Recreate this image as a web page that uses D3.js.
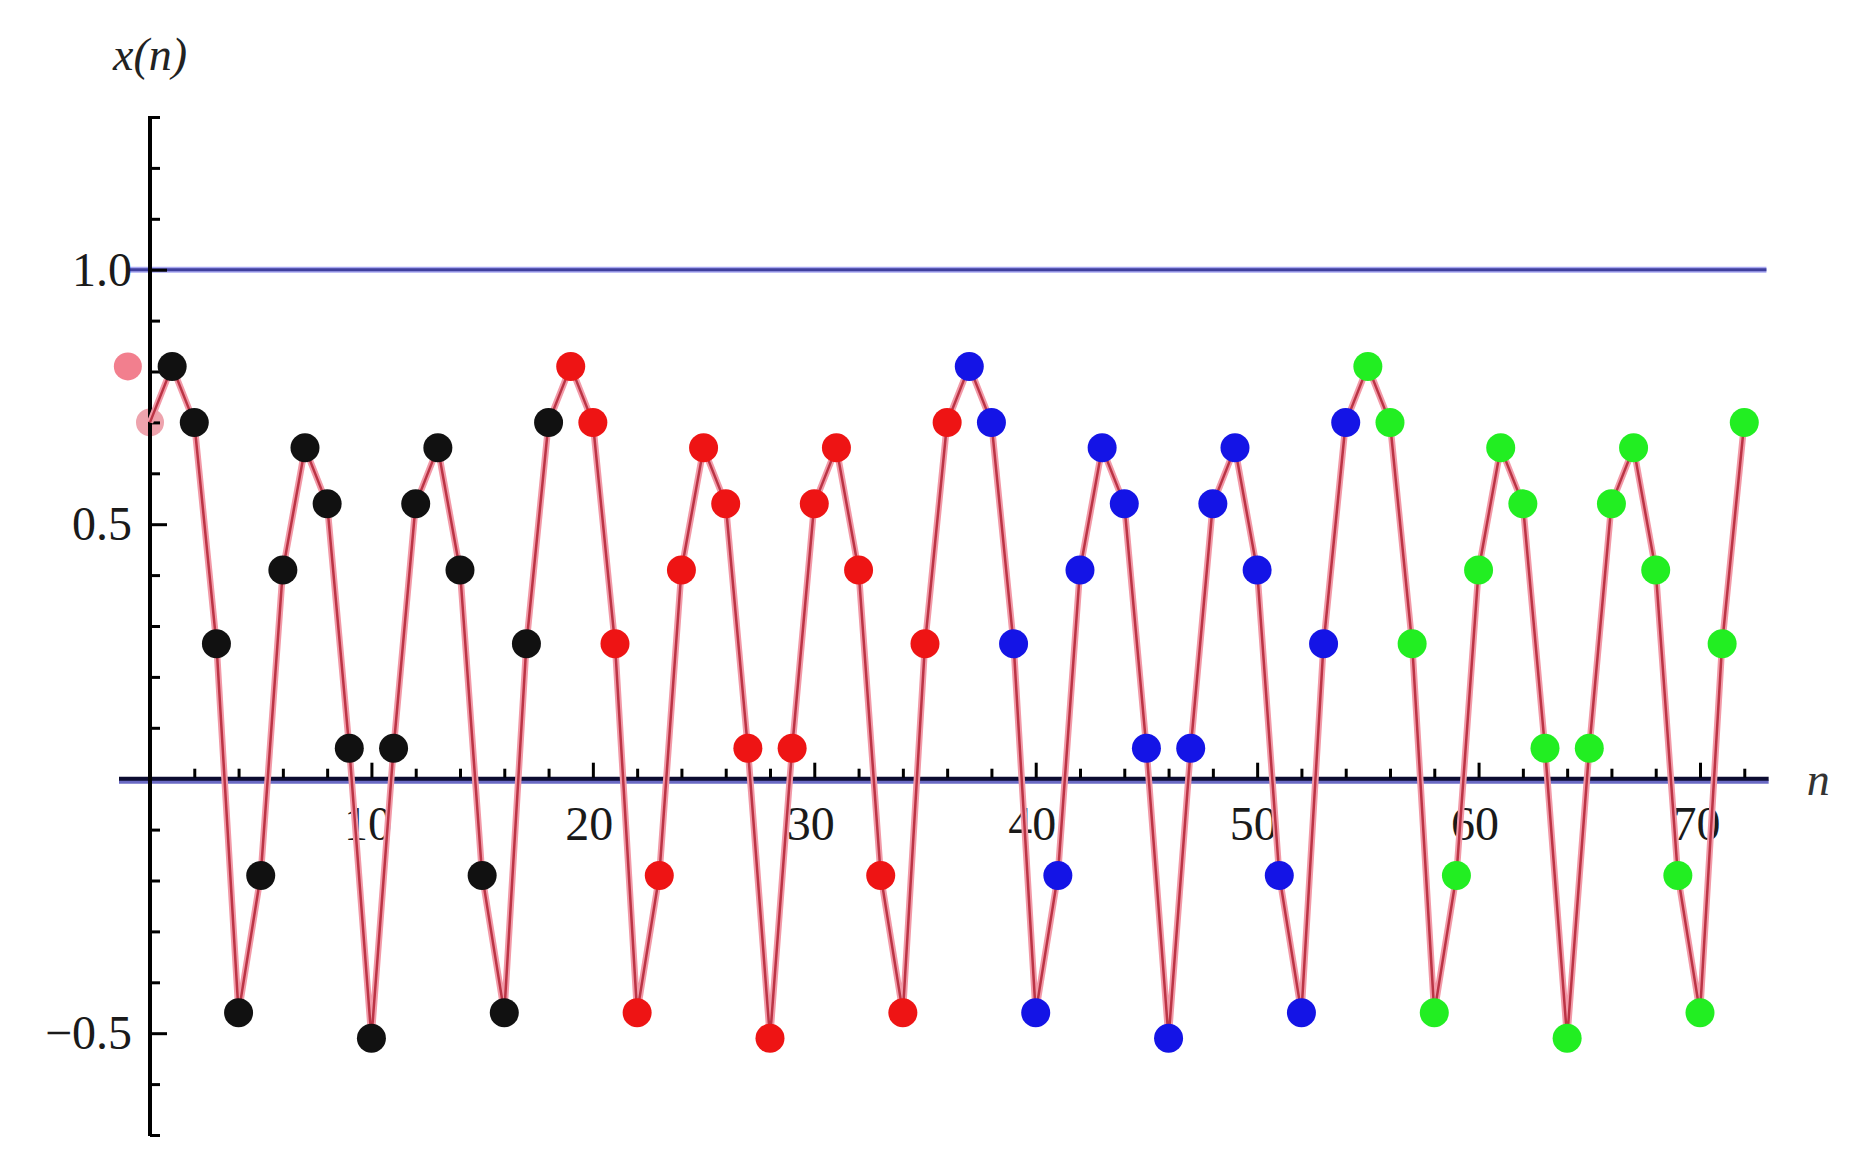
<!DOCTYPE html>
<html>
<head>
<meta charset="utf-8">
<script src="https://cdn.jsdelivr.net/npm/d3@7"></script>
<style>
  html, body { margin: 0; padding: 0; background: #ffffff; }
  svg { display: block; }
</style>
</head>
<body>
<svg id="chart" width="1873" height="1174"></svg>
<script>
// ---------------- data ----------------
const initN = [-1, 0];
const initX = [0.81, 0.70];
const initColors = ["#f27f8e", "#eea3ad"];

const blackN = [1, 2, 3, 4, 5, 6, 7, 8, 9, 10, 11, 12, 13, 14, 15, 16, 17, 18];
const blackX = [0.81, 0.70, 0.265, -0.46, -0.19, 0.41, 0.65, 0.54, 0.06, -0.51, 0.06, 0.54, 0.65, 0.41, -0.19, -0.46, 0.265, 0.70];

const redN = [19, 20, 21, 22, 23, 24, 25, 26, 27, 28, 29, 30, 31, 32, 33, 34, 35, 36];
const redX = [0.81, 0.70, 0.265, -0.46, -0.19, 0.41, 0.65, 0.54, 0.06, -0.51, 0.06, 0.54, 0.65, 0.41, -0.19, -0.46, 0.265, 0.70];

const blueN = [37, 38, 39, 40, 41, 42, 43, 44, 45, 46, 47, 48, 49, 50, 51, 52, 53, 54];
const blueX = [0.81, 0.70, 0.265, -0.46, -0.19, 0.41, 0.65, 0.54, 0.06, -0.51, 0.06, 0.54, 0.65, 0.41, -0.19, -0.46, 0.265, 0.70];

const greenN = [55, 56, 57, 58, 59, 60, 61, 62, 63, 64, 65, 66, 67, 68, 69, 70, 71, 72];
const greenX = [0.81, 0.70, 0.265, -0.46, -0.19, 0.41, 0.65, 0.54, 0.06, -0.51, 0.06, 0.54, 0.65, 0.41, -0.19, -0.46, 0.265, 0.70];

const xTickLabels = [10, 20, 30, 40, 50, 60, 70];
const yTickValues = [-0.5, 0.5, 1.0];
const yTickLabels = ["\u22120.5", "0.5", "1.0"];

const refLineValue = 1.0;          // horizontal reference line x(n) = 1
const refLineRange = [-1, 73];

// ---------------- drawing ----------------
const svg = d3.select("#chart");
const x = d3.scaleLinear().domain([0, 70]).range([150, 1700]);
const y = d3.scaleLinear().domain([-0.7, 1.3]).range([1135, 117]);

const series = [
  { n: blackN, v: blackX, color: "#111111" },
  { n: redN,   v: redX,   color: "#ee1414" },
  { n: blueN,  v: blueX,  color: "#1414e6" },
  { n: greenN, v: greenX, color: "#22ee22" }
];

// reference line y = 1
const refG = svg.append("g");
refG.append("line")
  .attr("x1", x(refLineRange[0])).attr("x2", x(refLineRange[1]))
  .attr("y1", y(refLineValue)).attr("y2", y(refLineValue))
  .attr("stroke", "#aaaaf2").attr("stroke-width", 6);
refG.append("line")
  .attr("x1", x(refLineRange[0])).attr("x2", x(refLineRange[1]))
  .attr("y1", y(refLineValue)).attr("y2", y(refLineValue))
  .attr("stroke", "#3f3f9e").attr("stroke-width", 3);

// initial (pink) points, underneath the axes
svg.append("g").selectAll("circle")
  .data(initN.map((n, i) => ({ n, v: initX[i], c: initColors[i] })))
  .join("circle")
  .attr("cx", d => x(d.n)).attr("cy", d => y(d.v))
  .attr("r", 14).attr("fill", d => d.c);

// y = 0 blue line under the x axis
svg.append("line")
  .attr("x1", x(-1.4)).attr("x2", x(73.1))
  .attr("y1", y(0) + 3).attr("y2", y(0) + 3)
  .attr("stroke", "#6a6ac4").attr("stroke-width", 4);

// x axis (ticks point up, labels below)
const xAxisG = svg.append("g").attr("transform", `translate(0,${y(0)})`);
xAxisG.append("line")
  .attr("x1", x(-1.4)).attr("x2", x(73.1))
  .attr("stroke", "#0c0c30").attr("stroke-width", 4);

const xMinor = d3.range(2, 73, 2).filter(v => v % 10 !== 0);
const xMinorAxis = d3.axisBottom(x).tickValues(xMinor).tickSize(-9).tickFormat("");
const xMajorAxis = d3.axisBottom(x).tickValues(xTickLabels).tickSize(-15).tickPadding(28)
  .tickFormat(d => String(d));
const gxm = svg.append("g").attr("transform", `translate(0,${y(0) - 1})`).call(xMinorAxis);
const gxM = svg.append("g").attr("transform", `translate(0,${y(0) - 1})`).call(xMajorAxis);
[gxm, gxM].forEach(g => {
  g.select(".domain").remove();
  g.selectAll(".tick line").attr("stroke", "#000").attr("stroke-width", 3);
});
gxM.selectAll(".tick text")
  .attr("font-family", "'Liberation Serif', 'Times New Roman', serif")
  .attr("font-size", 48).attr("fill", "#1a1a1a")
  .attr("dx", -4);

// y axis (ticks point right, labels left)
const yAxisG = svg.append("g");
yAxisG.append("line")
  .attr("x1", x(0)).attr("x2", x(0))
  .attr("y1", y(1.3) - 1).attr("y2", y(-0.7) + 1)
  .attr("stroke", "#000").attr("stroke-width", 4);

const yMinor = d3.range(-7, 14, 1).map(k => k / 10).filter(v => Math.abs(v * 2 - Math.round(v * 2)) > 1e-9);
const yMinorAxis = d3.axisLeft(y).tickValues(yMinor).tickSize(-10).tickFormat("");
const yMajorAxis = d3.axisLeft(y).tickValues(yTickValues).tickSize(-17).tickPadding(18)
  .tickFormat((d, i) => yTickLabels[i]);
const gym = svg.append("g").attr("transform", `translate(${x(0)},0)`).call(yMinorAxis);
const gyM = svg.append("g").attr("transform", `translate(${x(0)},0)`).call(yMajorAxis);
[gym, gyM].forEach(g => {
  g.select(".domain").remove();
  g.selectAll(".tick line").attr("stroke", "#000").attr("stroke-width", 3);
});
gyM.selectAll(".tick text")
  .attr("font-family", "'Liberation Serif', 'Times New Roman', serif")
  .attr("font-size", 48).attr("fill", "#1a1a1a");

// axis labels
svg.append("text")
  .attr("x", x(0)).attr("y", 70)
  .attr("text-anchor", "middle")
  .attr("font-family", "'Liberation Serif', 'Times New Roman', serif")
  .attr("font-style", "italic").attr("font-size", 46).attr("fill", "#222")
  .text("x(n)");
svg.append("text")
  .attr("x", x(73.1) + 38).attr("y", y(0) + 16)
  .attr("text-anchor", "start")
  .attr("font-family", "'Liberation Serif', 'Times New Roman', serif")
  .attr("font-style", "italic").attr("font-size", 46).attr("fill", "#333")
  .text("n");

// connecting line from n = 0 through n = 72
const linePts = [{ n: initN[1], v: initX[1] }];
series.forEach(s => s.n.forEach((n, i) => linePts.push({ n, v: s.v[i] })));
const lineGen = d3.line().x(d => x(d.n)).y(d => y(d.v));
svg.append("path").datum(linePts)
  .attr("d", lineGen).attr("fill", "none")
  .attr("stroke", "#f29aa8").attr("stroke-width", 6.5).attr("stroke-linejoin", "round");
svg.append("path").datum(linePts)
  .attr("d", lineGen).attr("fill", "none")
  .attr("stroke", "#bb3445").attr("stroke-width", 2.5).attr("stroke-linejoin", "round");

// points
series.forEach(s => {
  svg.append("g").selectAll("circle")
    .data(s.n.map((n, i) => ({ n, v: s.v[i] })))
    .join("circle")
    .attr("cx", d => x(d.n)).attr("cy", d => y(d.v))
    .attr("r", 14.5).attr("fill", s.color);
});
</script>
</body>
</html>
